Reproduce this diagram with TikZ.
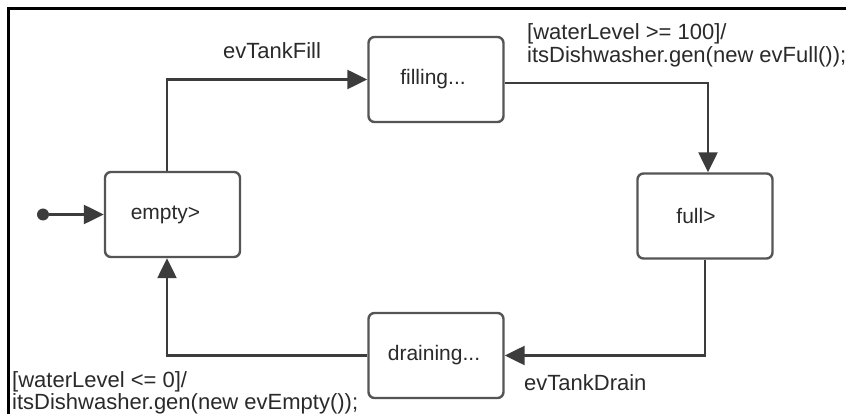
\documentclass[tikz,border=0pt]{standalone}
\usepackage{fontspec}
\setmainfont{Liberation Sans}
\usetikzlibrary{arrows.meta}

\definecolor{boxgray}{HTML}{555555}
\definecolor{linegray}{HTML}{3C3C3C}
\definecolor{txtgray}{HTML}{2A2A2A}

\tikzset{
  state/.style={draw=boxgray, line width=2.4pt, rounded corners=6pt,
    minimum width=135pt, minimum height=85pt, inner sep=0pt,
    font=\fontsize{21}{25}\selectfont, text=txtgray},
  trans/.style={draw=linegray, line width=2.4pt,
    -{Triangle[length=20pt, width=19pt]}},
  lbl/.style={anchor=base west, inner sep=0pt,
    font=\fontsize{22}{26}\selectfont, text=txtgray},
}

\begin{document}
\begin{tikzpicture}[x=1pt, y=-1pt]
  \useasboundingbox (0,0) rectangle (846,414);
  \fill[white] (0,0) rectangle (846,414);

  % frame edges (top and left)
  \draw[black, line width=2.2pt] (846,8.5) -- (8.5,8.5) -- (8.5,414);

  % states
  \node[state] (empty)    at (172.5,214.5) {empty>\hspace*{14pt}};
  \node[state] (filling)  at (436,79.5)    {filling...\hspace*{6pt}};
  \node[state] (full)     at (705,216)     {\raisebox{-12pt}{full>}\hspace*{18pt}};
  \node[state] (draining) at (436,355.5)   {\raisebox{6pt}{draining...}\hspace*{4pt}};

  % initial pseudostate
  \node[circle, fill=linegray, minimum size=12pt, inner sep=0pt] (init) at (43,214.5) {};

  % transitions
  \draw[trans] (init) -- (empty);
  \draw[trans] ([xshift=-5.5pt]empty.north) |- (filling.west);
  \draw[trans] ([yshift=-3.5pt]filling.east) -| ([xshift=3pt]full.north);
  \draw[trans] (full.south) |- (draining.east);
  \draw[trans] (draining.west) -| ([xshift=-5.5pt]empty.south);

  % transition labels
  \node[lbl] (l1)  at (223,59)  {evTankFill};
  \node[lbl] (l2a) at (527,40)  {[waterLevel >= 100]/};
  \node[lbl] (l2b) at (527,63)  {itsDishwasher.gen(new evFull());};
  \node[lbl] (l3)  at (524,390) {evTankDrain};
  \node[lbl] (l4a) at (12,387)  {[waterLevel <= 0]/};
  \node[lbl] (l4b) at (12,409)  {itsDishwasher.gen(new evEmpty());};
\end{tikzpicture}
\end{document}
